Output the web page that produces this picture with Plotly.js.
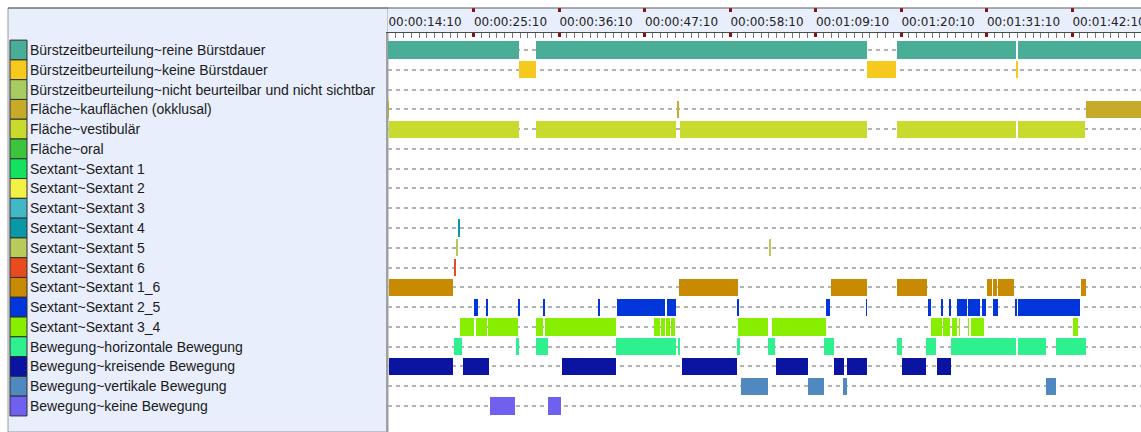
<!DOCTYPE html>
<html>
<head>
<meta charset="utf-8">
<script src="https://cdn.plot.ly/plotly-3.0.1.min.js"></script>
<style>
html,body{margin:0;padding:0;background:#fff;}
#chart{width:1141px;height:432px;}
</style>
</head>
<body>
<div id="chart"></div>
<script>
// ---- categories (rows, top to bottom) ----
const categories = [
  "Bürstzeitbeurteilung~reine Bürstdauer",
  "Bürstzeitbeurteilung~keine Bürstdauer",
  "Bürstzeitbeurteilung~nicht beurteilbar und nicht sichtbar",
  "Fläche~kauflächen (okklusal)",
  "Fläche~vestibulär",
  "Fläche~oral",
  "Sextant~Sextant 1",
  "Sextant~Sextant 2",
  "Sextant~Sextant 3",
  "Sextant~Sextant 4",
  "Sextant~Sextant 5",
  "Sextant~Sextant 6",
  "Sextant~Sextant 1_6",
  "Sextant~Sextant 2_5",
  "Sextant~Sextant 3_4",
  "Bewegung~horizontale Bewegung",
  "Bewegung~kreisende Bewegung",
  "Bewegung~vertikale Bewegung",
  "Bewegung~keine Bewegung"
];
const colors = [
  "#4aad97", "#f5c91e", "#a9cc62", "#c6aa2a", "#c9da2e", "#3cc43c",
  "#12e25e", "#f2f244", "#42b8c6", "#0a98a8", "#b9c95a", "#e84c1e",
  "#c88a00", "#0036da", "#88ee00", "#2ef08f", "#0a14a0", "#5088c0", "#7060f0"
];

// ---- time axis (seconds) ----
const tickSeconds = [14.4, 25.4, 36.4, 47.4, 58.4, 69.4, 80.4, 91.4, 102.4];
const tickLabels = ["00:00:14:10","00:00:25:10","00:00:36:10","00:00:47:10","00:00:58:10",
                    "00:01:09:10","00:01:20:10","00:01:31:10","00:01:42:10"];
const timeRange = [14.4, 111.27];

// ---- segments per category: [start, end] in seconds ----
const seg_reine = [[14.40,31.25],[33.44,76.02],[79.88,95.19],[95.45,111.3]];
const seg_keine = [[31.25,33.44],[76.02,79.75],[95.20,95.42]];
const seg_nichtBeurteilbar = [];
const seg_kauflaechen = [[14.27,14.52],[51.60,51.85],[104.15,111.3]];
const seg_vestibulaer = [[14.53,31.25],[33.44,51.45],[51.90,76.02],[79.88,95.19],[95.45,104.07]];
const seg_oral = [];
const seg_s1 = [];
const seg_s2 = [];
const seg_s3 = [];
const seg_s4 = [[23.45,23.68]];
const seg_s5 = [[23.20,23.42],[63.45,63.68]];
const seg_s6 = [[22.95,23.18]];
const seg_s16 = [[14.53,22.76],[51.84,59.43],[71.39,76.02],[79.88,83.74],[91.46,92.10],[92.23,92.70],[92.88,94.94],[103.55,104.20]];
const seg_s25 = [[25.46,25.98],[27.05,27.28],[31.12,31.35],[34.40,34.62],[41.42,41.67],[43.86,50.04],[50.29,51.45],
                 [59.33,59.56],[70.75,71.26],[75.85,76.08],[83.87,84.26],[85.60,85.83],[86.60,86.83],[87.60,88.89],
                 [89.02,90.56],[90.82,91.33],[92.23,92.88],[95.06,95.34],[95.45,103.43]];
const seg_s34 = [[23.66,25.46],[25.72,27.14],[27.27,31.12],[33.44,34.34],[34.60,41.48],[41.60,43.73],
                 [48.62,49.40],[49.52,50.04],[50.17,50.69],[50.81,51.32],[59.43,63.29],[63.80,70.75],
                 [84.26,85.65],[85.80,86.75],[86.90,87.60],[87.80,88.03],[88.95,89.18],[89.40,91.08],[102.53,103.17]];
const seg_horizontal = [[22.89,23.92],[30.87,31.25],[33.44,34.98],[43.73,51.45],[51.75,51.97],[59.30,59.68],
                        [63.29,64.19],[70.49,71.78],[79.88,80.53],[83.61,84.90],[86.83,95.19],[95.45,99.05],[100.34,104.20]];
const seg_kreisend = [[14.53,22.76],[24.05,27.39],[36.79,43.73],[52.22,59.30],[64.32,68.43],[71.78,73.06],
                      [73.45,76.02],[80.53,83.61],[85.03,86.83]];
const seg_vertikal = [[59.81,63.29],[68.43,70.49],[72.94,73.45],[99.05,100.34]];
const seg_keineBewegung = [[27.52,30.74],[34.98,36.66]];

const segments = [seg_reine, seg_keine, seg_nichtBeurteilbar, seg_kauflaechen, seg_vestibulaer, seg_oral,
                  seg_s1, seg_s2, seg_s3, seg_s4, seg_s5, seg_s6, seg_s16, seg_s25, seg_s34,
                  seg_horizontal, seg_kreisend, seg_vertikal, seg_keineBewegung];

// ---- layout geometry ----
const W = 1141, H = 432, ML = 8, MT = 8;
const splitPx = 388;                       // left panel | timeline
const xSplit = (splitPx - ML) / (W - ML);  // paper fraction
const headerBottomPx = 33;
const yMainTop = 1 - (headerBottomPx - MT) / (H - MT);
const yTickStrip = 1 - 4 / (H - MT);
const rowPitch = 19.78, firstRowPx = 50;
const yTop = -(firstRowPx - headerBottomPx) / rowPitch;
const yBottom = yTop + (H - headerBottomPx) / rowPitch;
const rowIdx = categories.map((_, i) => i);

const traces = [];
segments.forEach((segs, i) => {
  if (!segs.length) return;
  traces.push({
    type: 'bar', orientation: 'h',
    y: segs.map(() => i),
    base: segs.map(s => s[0]),
    x: segs.map(s => s[1] - s[0]),
    width: 0.87,
    marker: {color: colors[i], line: {width: 0}},
    xaxis: 'x', yaxis: 'y', hoverinfo: 'skip', showlegend: false
  });
});
// legend swatches in the left panel
traces.push({
  type: 'bar', orientation: 'h',
  y: rowIdx, base: rowIdx.map(() => 2), x: rowIdx.map(() => 17),
  width: 1,
  marker: {color: colors, line: {color: '#2e2e2e', width: 1}},
  xaxis: 'x2', yaxis: 'y4', hoverinfo: 'skip', showlegend: false
});
// header tick strip placeholder
traces.push({type: 'scatter', x: [timeRange[0]], y: [-1], mode: 'markers', marker: {opacity: 0},
             xaxis: 'x3', yaxis: 'y3', hoverinfo: 'skip', showlegend: false});

const annotations = categories.map((c, i) => ({
  text: c, xref: 'x2', yref: 'y4', x: 19.5, y: i, xanchor: 'left', yanchor: 'middle',
  showarrow: false, font: {family: 'Liberation Sans, Arial, sans-serif', size: 14, color: '#1a1a1a'}
}));

const panelBg = '#e8eefb';
const layout = {
  width: W, height: H,
  margin: {l: ML, r: 0, t: MT, b: 0, pad: 0},
  paper_bgcolor: '#ffffff', plot_bgcolor: 'rgba(0,0,0,0)',
  showlegend: false, barmode: 'overlay', bargap: 0,
  xaxis: {
    domain: [xSplit, 1], range: timeRange, anchor: 'y', side: 'top',
    showline: true, linecolor: '#4a4a4a', linewidth: 1,
    tickmode: 'linear', tick0: tickSeconds[0], dtick: 11,
    ticks: 'inside', ticklen: 4, tickwidth: 3, tickcolor: '#8b1010',
    showticklabels: false, showgrid: false, zeroline: false,
    minor: {tickmode: 'linear', tick0: tickSeconds[0], dtick: 1, ticks: 'inside', ticklen: 5, tickwidth: 1, tickcolor: '#777', showgrid: false}
  },
  yaxis: {
    domain: [0, yMainTop], range: [yBottom, yTop], anchor: 'x',
    tickmode: 'array', tickvals: rowIdx, showticklabels: false, ticks: '',
    showgrid: true, gridcolor: '#b2b2b2', gridwidth: 2, griddash: '4px,4px',
    zeroline: false, showline: true, linecolor: '#a0a0a0', linewidth: 2
  },
  xaxis2: {domain: [0, xSplit], range: [0, splitPx - ML], anchor: 'y4', visible: false, fixedrange: true},
  yaxis4: {domain: [0, yMainTop], matches: 'y', anchor: 'x2', visible: false, showgrid: false, zeroline: false},
  xaxis3: {
    domain: [xSplit, 1], matches: 'x', anchor: 'y3', side: 'bottom',
    showline: false,
    tickmode: 'array', tickvals: tickSeconds, ticktext: tickLabels,
    ticks: 'inside', ticklen: 4, tickwidth: 3, tickcolor: '#8b1010',
    ticklabelposition: 'outside', ticklabelshift: 37, ticklabelstandoff: 1,
    ticklabeloverflow: 'allow',
    tickfont: {family: 'DejaVu Sans, Verdana, sans-serif', size: 12, color: '#222'},
    showgrid: false, zeroline: false
  },
  yaxis3: {domain: [yTickStrip, 1], range: [0, 1], anchor: 'x3', visible: false, fixedrange: true},
  shapes: [
    {type: 'rect', xref: 'paper', yref: 'paper', x0: 0, x1: xSplit, y0: 0, y1: 1,
     fillcolor: panelBg, line: {color: '#9a9a9a', width: 1}, layer: 'below'},
    {type: 'rect', xref: 'paper', yref: 'paper', x0: xSplit, x1: 1, y0: yMainTop, y1: 1,
     fillcolor: panelBg, line: {width: 0}, layer: 'below'},
    {type: 'line', xref: 'paper', yref: 'paper', x0: 0, x1: 1, y0: 1, y1: 1,
     line: {color: '#5a5a5a', width: 1}}
  ],
  annotations: annotations
};

Plotly.newPlot('chart', traces, layout, {staticPlot: true, displayModeBar: false});
</script>
</body>
</html>
